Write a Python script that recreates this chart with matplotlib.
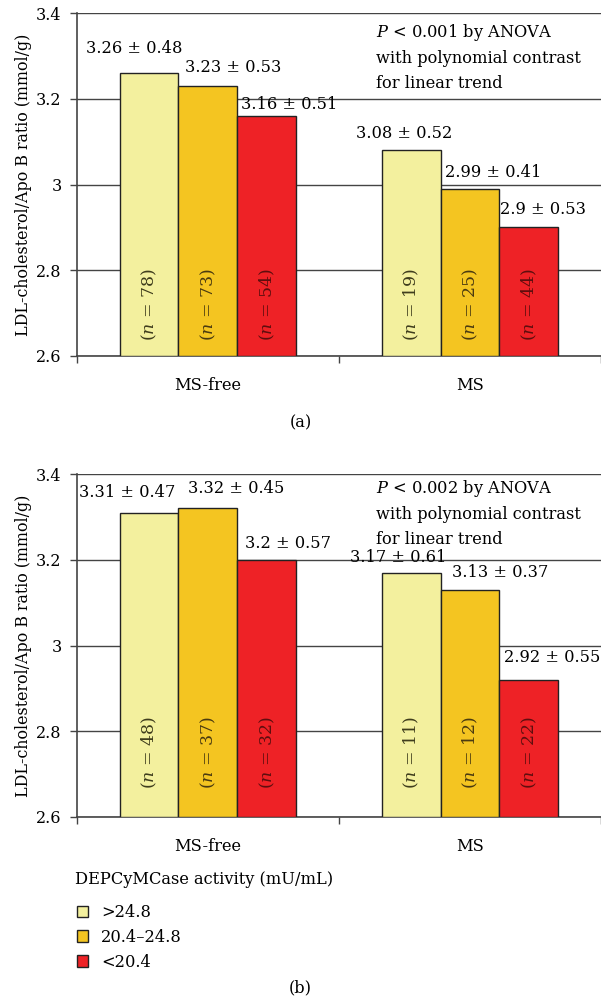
import matplotlib
matplotlib.use('Agg')
import matplotlib.pyplot as plt
from matplotlib.patches import Patch

plt.rcParams['font.family'] = ['DejaVu Serif']
plt.rcParams['mathtext.fontset'] = 'custom'
plt.rcParams['mathtext.rm'] = 'DejaVu Serif'
plt.rcParams['mathtext.it'] = 'DejaVu Serif:italic'

# data
groups = ['MS-free', 'MS']
levels = ['>24.8', '20.4\u201324.8', '<20.4']
colors = ['#F3F09E', '#F4C521', '#EE2226']
n_colors = ['#3E3C1C', '#4A3A10', '#5E0E0E']

means_a = [[3.26, 3.23, 3.16], [3.08, 2.99, 2.90]]
sds_a = [['0.48', '0.53', '0.51'], ['0.52', '0.41', '0.53']]
means_a_txt = [['3.26', '3.23', '3.16'], ['3.08', '2.99', '2.9']]
n_a = [[78, 73, 54], [19, 25, 44]]

means_b = [[3.31, 3.32, 3.20], [3.17, 3.13, 2.92]]
sds_b = [['0.47', '0.45', '0.57'], ['0.61', '0.37', '0.55']]
means_b_txt = [['3.31', '3.32', '3.2'], ['3.17', '3.13', '2.92']]
n_b = [[48, 37, 32], [11, 12, 22]]

p_a = '0.001'
p_b = '0.002'

fig = plt.figure(figsize=(6.01, 10.07), dpi=100)
ax_a = fig.add_axes([0.128, 0.6465, 0.872, 0.3405])
ax_b = fig.add_axes([0.128, 0.1887, 0.872, 0.3405])

width = 0.225
fs = 11.7

# label placement (pixel offsets from bar top; first bar centred, others from bar left edge)
lab_a = [[(-15, 25), (7, 18), (4, 11)], [(-7, 17), (4, 16), (1, 18)]]
lab_b = [[(-22, 20), (10, 20), (8, 16)], [(-13, 15), (11, 17), (5, 22)]]


def draw_panel(ax, means, mtxt, sds, ns, pval, ptop, ny, lab):
    for g in range(len(groups)):
        for k in range(len(levels)):
            x = g + (k - 1) * width
            ax.bar(x, means[g][k] - 2.6, bottom=2.6, width=width, color=colors[k],
                   edgecolor='#222222', linewidth=1.0, zorder=3)
            label = mtxt[g][k] + ' \u00b1 ' + sds[g][k]
            dx, dy = lab[g][k]
            if k == 0:
                ax.annotate(label, (x, means[g][k]), xytext=(dx, dy),
                            textcoords='offset pixels', ha='center', va='center',
                            fontsize=fs, zorder=4)
            else:
                ax.annotate(label, (x - width / 2, means[g][k]), xytext=(dx, dy),
                            textcoords='offset pixels', ha='left', va='center',
                            fontsize=fs, zorder=4)
            ax.text(x, ny, r'($\it{n}$ = %d)' % ns[g][k], rotation=90,
                    ha='center', va='center', fontsize=12.5, color=n_colors[k], zorder=4)

    ax.set_xlim(-0.5, 1.5)
    ax.set_ylim(2.6, 3.4)
    ax.set_yticks([2.6, 2.8, 3.0, 3.2, 3.4])
    ax.set_yticklabels(['2.6', '2.8', '3', '3.2', '3.4'], fontsize=11.5)
    ax.set_xticks([-0.5, 0.5, 1.5])
    ax.set_xticklabels([])
    ax.tick_params(axis='x', length=5, color='#444444', width=1)
    ax.tick_params(axis='y', length=5, color='#444444', width=1, pad=6)
    for g, name in enumerate(groups):
        ax.text(g, -0.06, name, transform=ax.get_xaxis_transform(),
                ha='center', va='top', fontsize=fs)
    ax.grid(axis='y', color='#444444', linewidth=1.0, zorder=0)
    for s in ['top', 'right']:
        ax.spines[s].set_visible(False)
    for s in ['left', 'bottom']:
        ax.spines[s].set_color('#444444')
        ax.spines[s].set_linewidth(1.2)
    ax.set_ylabel('LDL-cholesterol/Apo B ratio (mmol/g)', fontsize=11.4, labelpad=3)
    ax.text(0.570, ptop, r'$\it{P}$ < ' + pval + ' by ANOVA\nwith polynomial contrast\nfor linear trend',
            transform=ax.transAxes, ha='left', va='top', fontsize=fs, linespacing=1.58)


draw_panel(ax_a, means_a, means_a_txt, sds_a, n_a, p_a, 0.975, 2.72, lab_a)
draw_panel(ax_b, means_b, means_b_txt, sds_b, n_b, p_b, 0.99, 2.75, lab_b)

fig.text(0.5, 1 - 423 / 1007, '(a)', ha='center', va='center', fontsize=fs)
fig.text(0.5, 1 - 988 / 1007, '(b)', ha='center', va='center', fontsize=fs)

fig.text(75 / 601, 1 - 880 / 1007, 'DEPCyMCase activity (mU/mL)', ha='left', va='center', fontsize=fs)
handles = [Patch(facecolor=c, edgecolor='#222222', linewidth=1.0) for c in colors]
fig.legend(handles, levels, loc='upper left', bbox_to_anchor=(77 / 601, 1 - 904 / 1007),
           frameon=False, fontsize=fs, handlelength=0.7, handleheight=0.7,
           handletextpad=0.8, labelspacing=0.48, borderaxespad=0, borderpad=0)

fig.savefig('out.png', dpi=100)
